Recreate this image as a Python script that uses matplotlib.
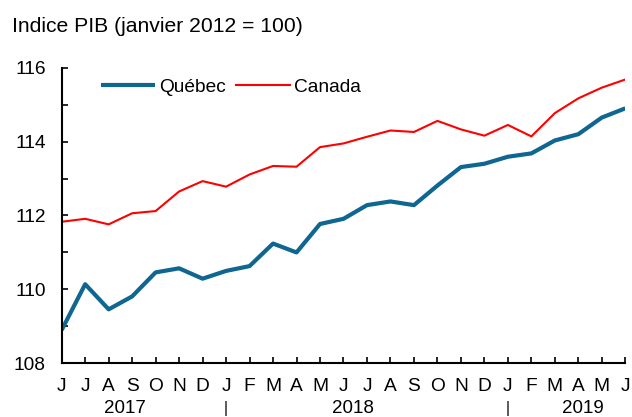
import numpy as np
import matplotlib
matplotlib.use("Agg")
import matplotlib.pyplot as plt
from matplotlib.ticker import MultipleLocator

plt.rcParams['font.family'] = ['Liberation Sans', 'DejaVu Sans']

# juin 2017 -> juin 2019
mois = ['J', 'J', 'A', 'S', 'O', 'N', 'D', 'J', 'F', 'M', 'A', 'M',
        'J', 'J', 'A', 'S', 'O', 'N', 'D', 'J', 'F', 'M', 'A', 'M', 'J']
quebec = [108.90, 110.14, 109.46, 109.81, 110.46, 110.57, 110.29, 110.50,
          110.63, 111.24, 111.00, 111.77, 111.91, 112.28, 112.38, 112.28,
          112.81, 113.31, 113.40, 113.59, 113.68, 114.03, 114.20, 114.65,
          114.90]
canada = [111.83, 111.91, 111.76, 112.06, 112.12, 112.65, 112.93, 112.78,
          113.11, 113.34, 113.32, 113.85, 113.95, 114.13, 114.30, 114.26,
          114.56, 114.33, 114.16, 114.45, 114.14, 114.77, 115.17, 115.46,
          115.68]
annees = ['2017', '2018', '2019']
pos_annees = [2.7, 12.4, 22.2]
separateurs = [7, 19]

x = np.arange(len(mois))

fig = plt.figure(figsize=(6.32, 4.17), dpi=100)
ax = fig.add_axes([0.0976, 0.1288, 0.8918, 0.7089])

ax.plot(x, quebec, color='#0F6690', lw=3.0, label='Québec', solid_capstyle='butt')
ax.plot(x, canada, color='#FF0000', lw=1.5, label='Canada')

ax.set_xlim(0, 24)
ax.set_ylim(108, 116)
ax.yaxis.set_major_locator(MultipleLocator(2))
ax.yaxis.set_minor_locator(MultipleLocator(1))
ax.set_xticks(x)
ax.set_xticklabels(mois)

for s in ['top', 'right']:
    ax.spines[s].set_visible(False)
for s in ['left', 'bottom']:
    ax.spines[s].set_linewidth(1.5)

ax.tick_params(axis='y', which='both', direction='in', length=4, width=1.2,
               pad=11.5, labelsize=13.8)
ax.tick_params(axis='x', direction='in', length=4, width=1.2, pad=10.5,
               labelsize=13.8)

trans = ax.get_xaxis_transform()
for a, p in zip(annees, pos_annees):
    ax.text(p, -0.154, a, transform=trans, ha='center', va='center',
            fontsize=13.5, clip_on=False)
for p in separateurs:
    ax.text(p, -0.154, '|', transform=trans, ha='center', va='center',
            fontsize=11.5, clip_on=False)

ax.legend(loc='center left', bbox_to_anchor=(0.07, 0.935), ncol=2,
          frameon=False, fontsize=13.8, handlelength=2.8, handletextpad=0.25,
          columnspacing=0.5, borderpad=0, borderaxespad=0)

fig.text(0.0185, 0.924, 'Indice PIB (janvier 2012 = 100)', fontsize=15.2,
         va='baseline', ha='left')

fig.savefig('out.png', dpi=100)
